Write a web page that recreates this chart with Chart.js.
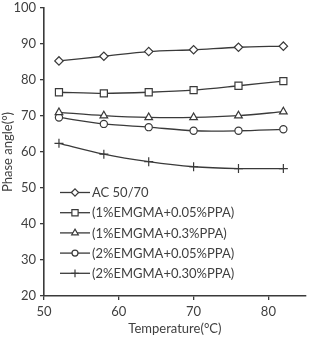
<!DOCTYPE html>
<html>
<head>
<meta charset="utf-8">
<script src="https://cdn.jsdelivr.net/npm/chart.js@4"></script>
<style>
    html, body { margin: 0; padding: 0; background: #fff; }
    #wrap { width: 312px; height: 345px; }
</style>
</head>
<body>
<div id="wrap"><canvas id="chart"></canvas></div>
<script>
// Данные с графика
const temperatures = [52, 58, 64, 70, 76, 82];
const seriesNames = ['AC 50/70', '(1%EMGMA+0.05%PPA)', '(1%EMGMA+0.3%PPA)', '(2%EMGMA+0.05%PPA)', '(2%EMGMA+0.30%PPA)'];
const ac5070 = [85.3, 86.6, 87.9, 88.4, 89.1, 89.4];
const emgma1ppa005 = [76.6, 76.3, 76.6, 77.2, 78.4, 79.7];
const emgma1ppa03 = [71.0, 70.1, 69.6, 69.6, 70.1, 71.2];
const emgma2ppa005 = [69.6, 67.8, 66.9, 65.9, 65.9, 66.3];
const emgma2ppa030 = [62.4, 59.4, 57.3, 55.9, 55.4, 55.4];
const xTicks = [50, 60, 70, 80];
const yTicks = [20, 30, 40, 50, 60, 70, 80, 90, 100];

const textColor = '#404040';
const lineColor = '#3a3a3a';
const fontFamily = 'Lato, "Liberation Sans", sans-serif';

const toPoints = values => values.map((v, i) => ({ x: temperatures[i], y: v }));

const makeDataset = (label, values, pointStyle, radius) => ({
    label: label,
    data: toPoints(values),
    borderColor: lineColor,
    borderWidth: 1.3,
    pointStyle: pointStyle,
    pointRadius: radius,
    pointBorderWidth: 1.2,
    pointBackgroundColor: '#fff',
    pointBorderColor: lineColor,
    tension: 0.3,
    fill: false,
});

// Легенда внутри области графика
const innerLegend = {
    id: 'innerLegend',
    afterDraw(chart) {
        const ctx = chart.ctx;
        const area = chart.chartArea;
        const x0 = area.left + 16;
        const y0 = area.top + 184.5;
        ctx.save();
        ctx.font = '13px ' + fontFamily;
        ctx.textBaseline = 'middle';
        ctx.fillStyle = textColor;
        chart.data.datasets.forEach((ds, i) => {
            const y = y0 + i * 20.2;
            ctx.strokeStyle = lineColor;
            ctx.lineWidth = 1.3;
            ctx.beginPath();
            ctx.moveTo(x0, y);
            ctx.lineTo(x0 + 30, y);
            ctx.stroke();
            ctx.fillStyle = '#fff';
            ctx.lineWidth = 1.2;
            Chart.helpers.drawPoint(ctx, { pointStyle: ds.pointStyle, radius: ds.pointRadius - 0.6, rotation: 0, borderWidth: 1.2 }, x0 + 15, y);
            ctx.fillStyle = textColor;
            ctx.fillText(ds.label, x0 + 32, y + 0.5);
        });
        ctx.restore();
    }
};

const config = {
    type: 'line',
    data: {
        datasets: [
            makeDataset(seriesNames[0], ac5070, 'rectRot', 4.2),
            makeDataset(seriesNames[1], emgma1ppa005, 'rect', 5),
            makeDataset(seriesNames[2], emgma1ppa03, 'triangle', 4.4),
            makeDataset(seriesNames[3], emgma2ppa005, 'circle', 3.6),
            makeDataset(seriesNames[4], emgma2ppa030, 'cross', 4.5),
        ]
    },
    options: {
        responsive: true,
        maintainAspectRatio: false,
        animation: false,
        layout: { padding: 0 },
        plugins: {
            legend: { display: false },
            tooltip: { enabled: false },
        },
        scales: {
            x: {
                type: 'linear',
                min: 50,
                max: 85,
                afterBuildTicks: scale => { scale.ticks = xTicks.map(v => ({ value: v })); },
                afterFit: scale => { scale.height = 49; },
                grid: { drawOnChartArea: false, tickLength: 4, color: lineColor, lineWidth: 1.3 },
                border: { color: lineColor, width: 1.6 },
                ticks: { color: textColor, font: { family: fontFamily, size: 13 }, padding: 4, maxRotation: 0 },
                title: {
                    display: true,
                    text: 'Temperature(°C)',
                    color: textColor,
                    font: { family: fontFamily, size: 13 },
                    padding: { top: 0, bottom: 8 },
                },
            },
            y: {
                min: 20,
                max: 100,
                afterBuildTicks: scale => { scale.ticks = yTicks.map(v => ({ value: v })); },
                afterFit: scale => {
                    scale.width = 44;
                    scale.paddingTop = 8;
                },
                grid: { drawOnChartArea: false, tickLength: 4, color: lineColor, lineWidth: 1.3 },
                border: { color: lineColor, width: 1.6 },
                ticks: { color: textColor, font: { family: fontFamily, size: 13 }, padding: 4 },
                title: {
                    display: true,
                    text: 'Phase angle(°)',
                    color: textColor,
                    font: { family: fontFamily, size: 13 },
                    padding: { top: 0, bottom: 0 },
                },
            },
        },
    },
    plugins: [innerLegend],
};

new Chart(document.getElementById('chart'), config);
</script>
</body>
</html>
